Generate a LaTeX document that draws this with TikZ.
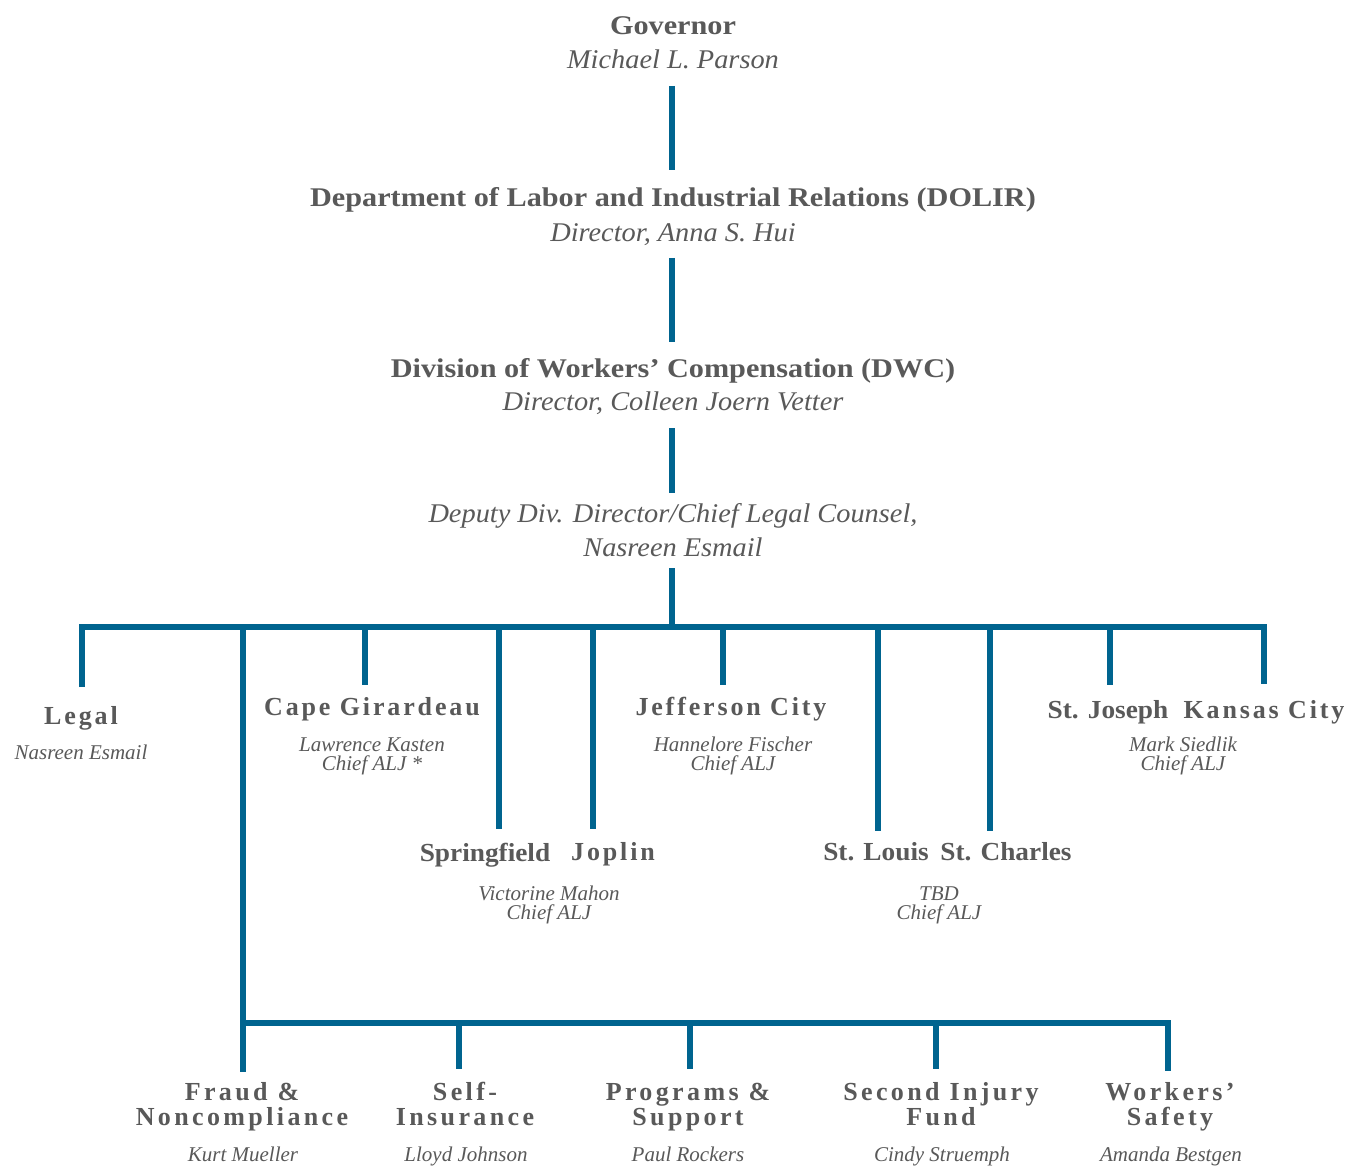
\documentclass[tikz,border=0pt]{standalone}
\usepackage{fontspec}
\setmainfont{Liberation Serif}
\newfontfamily\topfont[FakeStretch=1.12]{Liberation Serif}
\newfontfamily\topitfont[FakeStretch=1.05]{Liberation Serif}
\newfontfamily\midfont[FakeStretch=1.05]{Liberation Serif}
\newfontfamily\spfont[LetterSpace=11]{Liberation Serif}
\newfontfamily\spbotfont[LetterSpace=13]{Liberation Serif}
\definecolor{lineblue}{HTML}{00648F}
\definecolor{txtgray}{HTML}{595959}
\begin{document}
\begin{tikzpicture}[x=1pt,y=-1pt,
  conn/.style={draw=lineblue, line width=6pt, line join=miter},
  lbl/.style={text=txtgray, inner sep=0pt, anchor=base, align=center},
  topb/.style={lbl, font=\topfont\bfseries\fontsize{27}{32}\selectfont},
  topi/.style={lbl, font=\topitfont\itshape\fontsize{27}{34}\selectfont},
  spb/.style={lbl, font=\spfont\bfseries\fontsize{26}{30}\selectfont},
  plb/.style={lbl, font=\midfont\bfseries\fontsize{26}{30}\selectfont},
  smi/.style={lbl, font=\itshape\fontsize{21}{19}\selectfont},
  botb/.style={lbl, font=\spbotfont\bfseries\fontsize{26}{25}\selectfont}]
\path[use as bounding box] (0,0) rectangle (1360,1166);
\fill[white] (0,0) rectangle (1360,1166);

% top chain (multi-line nodes are placed by the baseline of their last line)
\node[topb] (gov) at (673,35) {Governor};
\node[topi] (govn) at (673,69) {Michael L. Parson};
\node[topb] (dolir) at (673,207) {Department of Labor and Industrial Relations (DOLIR)};
\node[topi] (dolirn) at (673,242) {Director, Anna S. Hui};
\node[topb] (dwc) at (673,377) {Division of Workers’ Compensation (DWC)};
\node[topi] (dwcn) at (673,410) {Director, Colleen Joern Vetter};
\node[topi] (dep) at (673,556) {Deputy Div. Director/Chief Legal Counsel,\\Nasreen Esmail};

% offices
\node[spb] (legal) at (81,724) {Legal};
\node[smi] (legaln) at (81,759) {Nasreen Esmail};
\node[spb] (cape) at (372,715) {Cape Girardeau};
\node[smi] (capen) at (372,770) {Lawrence Kasten\\Chief ALJ *};
\node[spb] (jeff) at (731,715) {Jefferson City};
\node[smi] (jeffn) at (733,770) {Hannelore Fischer\\Chief ALJ};
\node[plb] (stjo) at (1108,718) {St. Joseph};
\node[spb] (kc) at (1264,718) {Kansas City};
\node[smi] (kcn) at (1183,770) {Mark Siedlik\\Chief ALJ};
\node[plb] (spr) at (485,861) {Springfield};
\node[spb] (jop) at (613,860) {Joplin};
\node[smi] (sprn) at (549,919) {Victorine Mahon\\Chief ALJ};
\node[plb] (stl) at (876,860) {St. Louis};
\node[plb] (stc) at (1006,860) {St. Charles};
\node[smi] (stln) at (939,919) {TBD\\Chief ALJ};

% units
\node[botb] (fraud) at (242,1125) {Fraud \&\\Noncompliance};
\node[smi] (fraudn) at (243,1161) {Kurt Mueller};
\node[botb] (self) at (465,1125) {Self-\\Insurance};
\node[smi] (selfn) at (466,1161) {Lloyd Johnson};
\node[botb] (prog) at (688,1125) {Programs \&\\Support};
\node[smi] (progn) at (688,1161) {Paul Rockers};
\node[botb] (sif) at (941,1125) {Second Injury\\Fund};
\node[smi] (sifn) at (942,1161) {Cindy Struemph};
\node[botb] (ws) at (1170,1125) {Workers’\\Safety};
\node[smi] (wsn) at (1171,1161) {Amanda Bestgen};

% connectors of the top chain
\coordinate (g1) at (672,86);  \coordinate (g2) at (672,170);
\coordinate (d1) at (672,258); \coordinate (d2) at (672,342);
\coordinate (w1) at (672,428); \coordinate (w2) at (672,493);
\coordinate (p1) at (672,568); \coordinate (p2) at (672,627);
\draw[conn] (g1) -- (g2);
\draw[conn] (d1) -- (d2);
\draw[conn] (w1) -- (w2);
\draw[conn] (p1) -- (p2);

% main bar
\coordinate (legalend) at (82,687);
\coordinate (barL) at (82,627);
\coordinate (barR) at (1264,627);
\coordinate (kcend) at (1264,684);
\draw[conn] (legalend) -- (barL) -- (barR) -- (kcend);
\foreach \n/\x/\y in {cape/365/685, spr/499/829, jop/593/829, jeff/723/685,
                      stl/878/831, stc/990/831, stjo/1110/685}{
  \coordinate (\n top) at (\x,627);
  \coordinate (\n end) at (\x,\y);
  \draw[conn] (\n top) -- (\n end);
}

% lower branch
\coordinate (spine) at (243,627);
\coordinate (fraudend) at (243,1072);
\draw[conn] (spine) -- (fraudend);
\coordinate (lowL) at (243,1023);
\coordinate (lowR) at (1168,1023);
\coordinate (wsend) at (1168,1071);
\draw[conn] (lowL) -- (lowR) -- (wsend);
\foreach \n/\x in {self/459, prog/690, sif/936}{
  \coordinate (\n top) at (\x,1023);
  \coordinate (\n end) at (\x,1069);
  \draw[conn] (\n top) -- (\n end);
}
\end{tikzpicture}
\end{document}
